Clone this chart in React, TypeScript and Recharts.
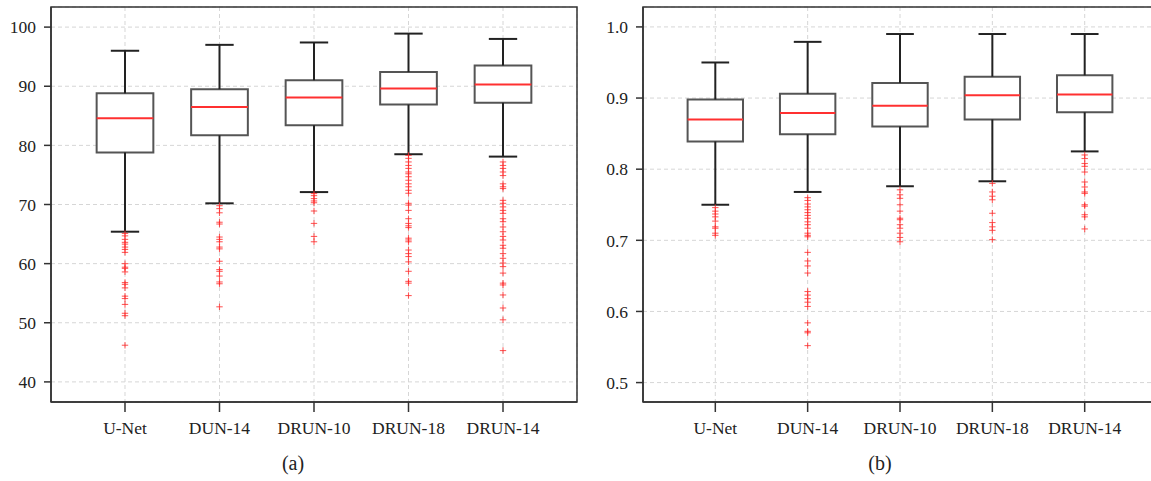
import React from 'react';
import {
  ComposedChart, XAxis, YAxis, CartesianGrid, ReferenceArea, ReferenceLine, Scatter,
} from 'recharts';

// ---------- data ----------
const categories = ['U-Net', 'DUN-14', 'DRUN-10', 'DRUN-18', 'DRUN-14'];

// panel (a)
const aMin = [65.4, 70.2, 72.1, 78.5, 78.1];
const aQ1 = [78.8, 81.7, 83.4, 86.9, 87.2];
const aMed = [84.6, 86.5, 88.1, 89.6, 90.3];
const aQ3 = [88.8, 89.5, 91.0, 92.4, 93.5];
const aMax = [96.0, 97.0, 97.4, 98.9, 98.0];
const aOutliers = [
  [65.1, 64.7, 64.1, 63.6, 63.3, 62.8, 62.4, 61.9, 60.0, 59.4, 59.2, 58.6, 56.8, 56.5, 55.9, 54.5, 54.1, 53.1, 51.6, 51.2, 46.2],
  [69.8, 69.3, 68.6, 67.0, 66.7, 64.5, 64.1, 63.7, 62.8, 62.5, 60.4, 59.0, 58.7, 57.9, 56.9, 56.6, 52.7],
  [71.85, 71.5, 71.0, 70.6, 70.3, 68.9, 66.8, 64.6, 63.7],
  [78.3, 77.8, 77.2, 76.6, 76.1, 75.5, 75.2, 74.7, 74.1, 73.5, 73.0, 72.4, 71.9, 70.2, 69.9, 69.0, 67.6, 66.8, 66.4, 66.1, 64.3, 64.0, 63.7, 62.3, 61.7, 61.2, 60.3, 58.7, 57.0, 56.7, 54.6],
  [77.2, 76.6, 76.1, 75.5, 74.9, 73.5, 73.0, 72.7, 70.7, 70.2, 69.6, 69.0, 68.5, 67.6, 67.1, 66.2, 65.4, 64.6, 64.0, 63.1, 62.6, 61.7, 60.9, 60.1, 59.5, 58.4, 56.7, 56.4, 54.7, 52.5, 50.5, 45.3],
];
const aTicks = [40, 50, 60, 70, 80, 90, 100];

// panel (b)
const bMin = [0.750, 0.768, 0.776, 0.783, 0.825];
const bQ1 = [0.839, 0.849, 0.860, 0.870, 0.880];
const bMed = [0.870, 0.879, 0.889, 0.904, 0.905];
const bQ3 = [0.898, 0.906, 0.921, 0.930, 0.932];
const bMax = [0.950, 0.979, 0.990, 0.990, 0.990];
const bOutliers = [
  [0.746, 0.741, 0.737, 0.733, 0.727, 0.719, 0.717, 0.710, 0.707],
  [0.760, 0.756, 0.751, 0.747, 0.743, 0.739, 0.735, 0.731, 0.726, 0.722, 0.717, 0.710, 0.707, 0.705, 0.683, 0.671, 0.664, 0.654, 0.628, 0.623, 0.618, 0.613, 0.607, 0.584, 0.572, 0.570, 0.552],
  [0.771, 0.764, 0.759, 0.750, 0.741, 0.731, 0.729, 0.722, 0.717, 0.710, 0.704, 0.698],
  [0.780, 0.768, 0.762, 0.757, 0.738, 0.725, 0.719, 0.714, 0.701],
  [0.820, 0.815, 0.808, 0.804, 0.796, 0.782, 0.775, 0.768, 0.766, 0.750, 0.748, 0.736, 0.733, 0.716],
];
const bTicks = [0.5, 0.6, 0.7, 0.8, 0.9, 1.0];

// ---------- drawing ----------
const FONT = '"Liberation Serif", "DejaVu Serif", serif';
const xTicks = [1, 2, 3, 4, 5];
const X_DOMAIN: [number, number] = [0.217, 5.783];
const BOX_HALF = 0.3;
const CAP_HALF = 0.15;

const Plus = (props: any) => {
  const { cx, cy } = props;
  if (cx == null || cy == null) return null;
  const s = 3.2;
  return (
    <g stroke="#ff2a2a" strokeOpacity={0.75} strokeWidth={1.1}>
      <line x1={cx - s} y1={cy} x2={cx + s} y2={cy} />
      <line x1={cx} y1={cy - s} x2={cx} y2={cy + s} />
    </g>
  );
};

type PanelProps = {
  mins: number[]; q1: number[]; med: number[]; q3: number[]; maxs: number[];
  outliers: number[][]; yTicks: number[]; yDomain: [number, number];
  fmt: (v: number) => string; width: number; right: number;
};

const Panel = ({ mins, q1, med, q3, maxs, outliers, yTicks, yDomain, fmt, width, right }: PanelProps) => {
  const pts = outliers.flatMap((arr, i) => arr.map((v) => ({ x: i + 1, y: v })));
  const tickStyle = { fontFamily: FONT, fontSize: 17.5, fill: '#222' };
  return (
    <ComposedChart width={width} height={481} margin={{ top: 7, right, left: 0, bottom: 39 }}>
      <CartesianGrid stroke="#d6d6d6" strokeDasharray="4 3" />
      <XAxis
        type="number" dataKey="x" domain={X_DOMAIN} ticks={xTicks} allowDataOverflow
        tickFormatter={(v: number) => categories[v - 1]} interval={0}
        tick={tickStyle} tickSize={10} tickMargin={10} height={40}
        axisLine={{ stroke: '#333', strokeWidth: 1.5 }} tickLine={{ stroke: '#333', strokeWidth: 1.5 }}
      />
      <YAxis
        type="number" dataKey="y" domain={yDomain} ticks={yTicks} allowDataOverflow
        tickFormatter={fmt} tick={tickStyle} tickSize={7} tickMargin={8} width={51}
        axisLine={{ stroke: '#333', strokeWidth: 1.5 }} tickLine={{ stroke: '#333', strokeWidth: 1.5 }}
      />
      <ReferenceArea x1={X_DOMAIN[0]} x2={X_DOMAIN[1]} y1={yDomain[0]} y2={yDomain[1]}
        fill="none" stroke="#333" strokeWidth={1.5} ifOverflow="visible" />
      {categories.map((c, i) => {
        const x = i + 1;
        return (
          <React.Fragment key={c}>
            <ReferenceLine segment={[{ x, y: q3[i] }, { x, y: maxs[i] }]} stroke="#222" strokeWidth={2} />
            <ReferenceLine segment={[{ x, y: mins[i] }, { x, y: q1[i] }]} stroke="#222" strokeWidth={2} />
            <ReferenceLine segment={[{ x: x - CAP_HALF, y: maxs[i] }, { x: x + CAP_HALF, y: maxs[i] }]} stroke="#222" strokeWidth={2} />
            <ReferenceLine segment={[{ x: x - CAP_HALF, y: mins[i] }, { x: x + CAP_HALF, y: mins[i] }]} stroke="#222" strokeWidth={2} />
            <ReferenceArea x1={x - BOX_HALF} x2={x + BOX_HALF} y1={q1[i]} y2={q3[i]}
              fill="#fff" fillOpacity={1} stroke="#555" strokeWidth={2} />
            <ReferenceLine segment={[{ x: x - BOX_HALF, y: med[i] }, { x: x + BOX_HALF, y: med[i] }]} stroke="#ff3030" strokeWidth={2} />
          </React.Fragment>
        );
      })}
      <Scatter data={pts} dataKey="y" shape={<Plus />} isAnimationActive={false} />
    </ComposedChart>
  );
};

export default function App() {
  return (
    <div style={{ position: 'absolute', left: 0, top: 0, width: 1151, height: 481, overflow: 'hidden', background: '#fff' }}>
      <div style={{ position: 'absolute', left: 0, top: 0 }}>
        <Panel mins={aMin} q1={aQ1} med={aMed} q3={aQ3} maxs={aMax} outliers={aOutliers}
          yTicks={aTicks} yDomain={[36.6, 103.4]} fmt={(v) => String(v)} width={600} right={23} />
      </div>
      <div style={{ position: 'absolute', left: 592, top: 0 }}>
        <Panel mins={bMin} q1={bQ1} med={bMed} q3={bQ3} maxs={bMax} outliers={bOutliers}
          yTicks={bTicks} yDomain={[0.4727, 1.028]} fmt={(v) => v.toFixed(1)} width={570} right={5} />
      </div>
      <div style={{ position: 'absolute', left: 243, width: 100, top: 452, textAlign: 'center', fontFamily: FONT, fontSize: 20, color: '#222' }}>(a)</div>
      <div style={{ position: 'absolute', left: 830, width: 100, top: 452, textAlign: 'center', fontFamily: FONT, fontSize: 20, color: '#222' }}>(b)</div>
    </div>
  );
}
